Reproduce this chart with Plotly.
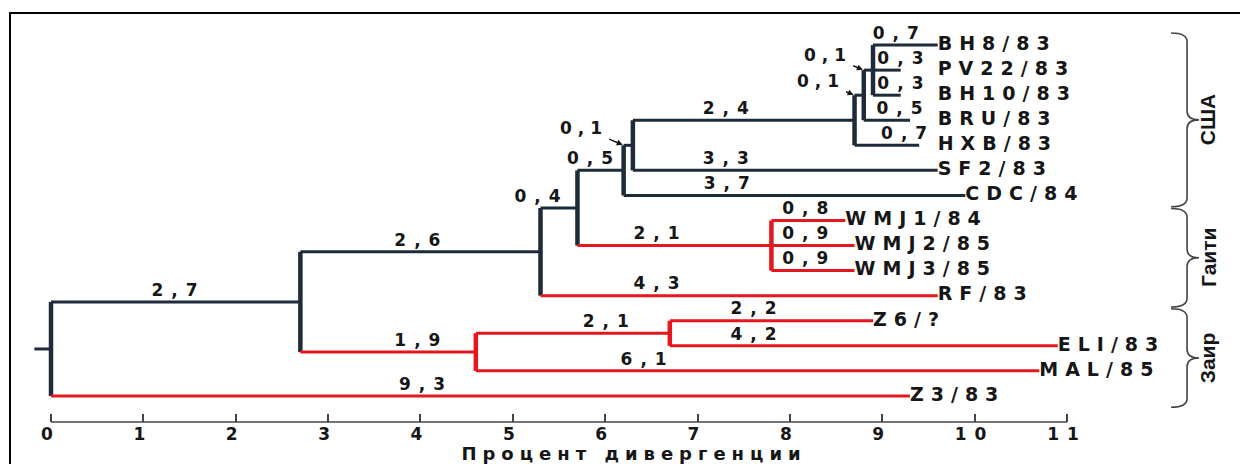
import plotly.graph_objects as go

# ---------------- data ----------------
leaf_names = ["BH8/83", "PV22/83", "BH10/83", "BRU/83", "HXB/83", "SF2/83", "CDC/84",
              "WMJ1/84", "WMJ2/85", "WMJ3/85", "RF/83", "Z6/?", "ELI/83", "MAL/85", "Z3/83"]

edge_child = ["A", "Z3/83", "B", "I", "C", "RF/83", "D", "K", "E", "CDC/84",
              "F", "SF2/83", "G", "HXB/83", "H", "BRU/83", "BH8/83", "PV22/83", "BH10/83",
              "WMJ1/84", "WMJ2/85", "WMJ3/85", "J", "MAL/85", "Z6/?", "ELI/83"]
edge_parent = ["R", "R", "A", "A", "B", "B", "C", "C", "D", "D",
               "E", "E", "F", "F", "G", "G", "H", "H", "H",
               "K", "K", "K", "I", "I", "J", "J"]
branch_len = [2.7, 9.3, 2.6, 1.9, 0.4, 4.3, 0.5, 2.1, 0.1, 3.7,
              2.4, 3.3, 0.1, 0.7, 0.1, 0.5, 0.7, 0.3, 0.3,
              0.8, 0.9, 0.9, 2.1, 6.1, 2.2, 4.2]

x_ticks = list(range(0, 12))
x_title = "Процент дивергенции"

group_names = ["США", "Гаити", "Заир"]
group_first = ["BH8/83", "WMJ1/84", "Z6/?"]
group_last = ["CDC/84", "RF/83", "Z3/83"]

# ---------------- style / layout helpers ----------------
DARK = "#1d2b3a"
RED = "#e5161d"
TXT = "#161616"
red_nodes = {"Z3/83", "I", "RF/83", "K", "WMJ1/84", "WMJ2/85", "WMJ3/85",
             "J", "MAL/85", "Z6/?", "ELI/83"}
# label centre offset from the parent node (axis units); None -> arrow label
label_dx = [1.34, 4.02, 1.27, 1.27, -0.03, 1.26, 0.14, 0.86, None, 1.12,
            1.01, 1.01, None, 0.54, None, 0.39, 0.25, 0.30, 0.30,
            0.37, 0.37, 0.37, 1.41, 1.82, 0.91, 0.91]
arrow_off = {"E": (-40, -17), "G": (-34, -14), "H": (-36, -15)}
aligned_clade = "F"   # leaf names of this clade are set in one column
FONT = "DejaVu Sans"


def spaced(s, px):
    return "<span style='letter-spacing:%dpx'>%s</span>" % (px, s)


def fmt(v):
    return ("%.1f" % v).replace(".", ",")


# ---------------- tree geometry ----------------
children = {}
for c, p in zip(edge_child, edge_parent):
    children.setdefault(p, []).append(c)

ypos = {n: i for i, n in enumerate(leaf_names)}


def gety(n):
    if n not in ypos:
        ys = [gety(c) for c in children[n]]
        ypos[n] = (min(ys) + max(ys)) / 2.0
    return ypos[n]


def leaves_of(n):
    if n not in children:
        return [n]
    out = []
    for c in children[n]:
        out += leaves_of(c)
    return out


gety("R")
xpos = {"R": 0.0}
for c, p, L in zip(edge_child, edge_parent, branch_len):
    xpos[c] = xpos[p] + L

hx = {DARK: [], RED: []}
hy = {DARK: [], RED: []}
for c, p in zip(edge_child, edge_parent):
    col = RED if c in red_nodes else DARK
    hx[col] += [xpos[p], xpos[c], None]
    hy[col] += [ypos[c], ypos[c], None]

vx = {DARK: [], RED: []}
vy = {DARK: [], RED: []}
for p, ch in children.items():
    col = RED if p in red_nodes else DARK
    ys = [ypos[c] for c in ch]
    vx[col] += [xpos[p], xpos[p], None]
    vy[col] += [min(ys), max(ys), None]

fig = go.Figure()
for col in (DARK, RED):
    fig.add_trace(go.Scatter(x=hx[col], y=hy[col], mode="lines",
                             line=dict(color=col, width=3), hoverinfo="skip",
                             showlegend=False))
    fig.add_trace(go.Scatter(x=vx[col], y=vy[col], mode="lines",
                             line=dict(color=col, width=4.5), hoverinfo="skip",
                             showlegend=False))
# root stub
fig.add_trace(go.Scatter(x=[-0.18, 0], y=[ypos["R"], ypos["R"]], mode="lines",
                         line=dict(color=DARK, width=3), hoverinfo="skip",
                         showlegend=False))

# tip labels
clade = leaves_of(aligned_clade)
col_x = max(xpos[n] for n in clade)
tip_x = [col_x if n in clade else xpos[n] for n in leaf_names]
fig.add_trace(go.Scatter(
    x=tip_x, y=[ypos[n] for n in leaf_names],
    mode="text", text=[spaced(n, 7) for n in leaf_names],
    textposition="middle right",
    textfont=dict(family=FONT, size=19, color=TXT, weight="bold"),
    hoverinfo="skip", showlegend=False))

# branch labels
bl_x, bl_y, bl_t = [], [], []
for c, p, L, dx in zip(edge_child, edge_parent, branch_len, label_dx):
    if dx is None:
        continue
    bl_x.append(xpos[p] + dx + 0.04)
    bl_y.append(ypos[c] - 0.08)
    bl_t.append(spaced(fmt(L), 8))
fig.add_trace(go.Scatter(
    x=bl_x, y=bl_y, mode="text", text=bl_t, textposition="top center",
    textfont=dict(family=FONT, size=17, color=TXT, weight="bold"),
    hoverinfo="skip", showlegend=False))

annotations = []
for c, p, L in zip(edge_child, edge_parent, branch_len):
    if c in arrow_off:
        ax, ay = arrow_off[c]
        annotations.append(dict(
            x=xpos[p], y=ypos[c], xref="x", yref="y",
            text=spaced(fmt(L), 6), showarrow=True, ax=ax, ay=ay,
            arrowhead=2, arrowsize=0.8, arrowwidth=1.5, arrowcolor=TXT,
            standoff=1, font=dict(family=FONT, size=17, color=TXT, weight="bold")))

# braces and group labels
shapes = []
bx_end, bx_mid, bx_tip = 12.127, 12.30, 12.43
for name, f, l in zip(group_names, group_first, group_last):
    y0 = ypos[f] - 0.48
    y1 = ypos[l] + 0.45
    ym = (y0 + y1) / 2.0
    d = 0.35
    path = ("M %f,%f Q %f,%f %f,%f L %f,%f Q %f,%f %f,%f Q %f,%f %f,%f L %f,%f Q %f,%f %f,%f" % (
        bx_end, y0, bx_mid, y0, bx_mid, y0 + d,
        bx_mid, ym - d, bx_mid, ym, bx_tip, ym,
        bx_mid, ym, bx_mid, ym + d,
        bx_mid, y1 - d, bx_mid, y1, bx_end, y1))
    shapes.append(dict(type="path", path=path, xref="x", yref="y",
                       line=dict(color="#444444", width=1.6)))
    annotations.append(dict(
        x=12.53, y=ym, xref="x", yref="y", text=name, showarrow=False,
        textangle=-90, font=dict(family="Liberation Sans Narrow, Liberation Sans, Arial",
                                 size=21, color=TXT, weight="bold")))

# axis line from 0 to 11
shapes.append(dict(type="line", xref="x", yref="paper", x0=x_ticks[0], x1=x_ticks[-1],
                   y0=0, y1=0, line=dict(color="#444444", width=1.5)))
# outer frame
shapes.append(dict(type="rect", xref="paper", yref="paper",
                   x0=-0.00814, x1=0.9943, y0=-0.14, y1=1.0174,
                   line=dict(color="black", width=2)))

# the page body has an 8px margin: figure is 1240x456 placed at (8, 8)
fig.update_layout(
    width=1240, height=456,
    margin=dict(l=12, r=0, t=12, b=42),
    paper_bgcolor="white", plot_bgcolor="white",
    shapes=shapes, annotations=annotations,
    xaxis=dict(range=[-0.3356, 12.960], showgrid=False, zeroline=False, showline=False,
               tickvals=x_ticks, ticktext=[spaced(str(t), 8) for t in x_ticks],
               ticks="inside", ticklen=8, tickwidth=1.5, tickcolor="#444444",
               tickfont=dict(family=FONT, size=17, color=TXT, weight="bold"),
               title=dict(text=spaced(x_title, 6), standoff=0,
                          font=dict(family=FONT, size=18, color=TXT, weight="bold")),
               automargin=False, fixedrange=True),
    yaxis=dict(range=[15.04, -1.0], visible=False, showgrid=False, zeroline=False,
               automargin=False, fixedrange=True),
)

fig.write_html("out.html")
